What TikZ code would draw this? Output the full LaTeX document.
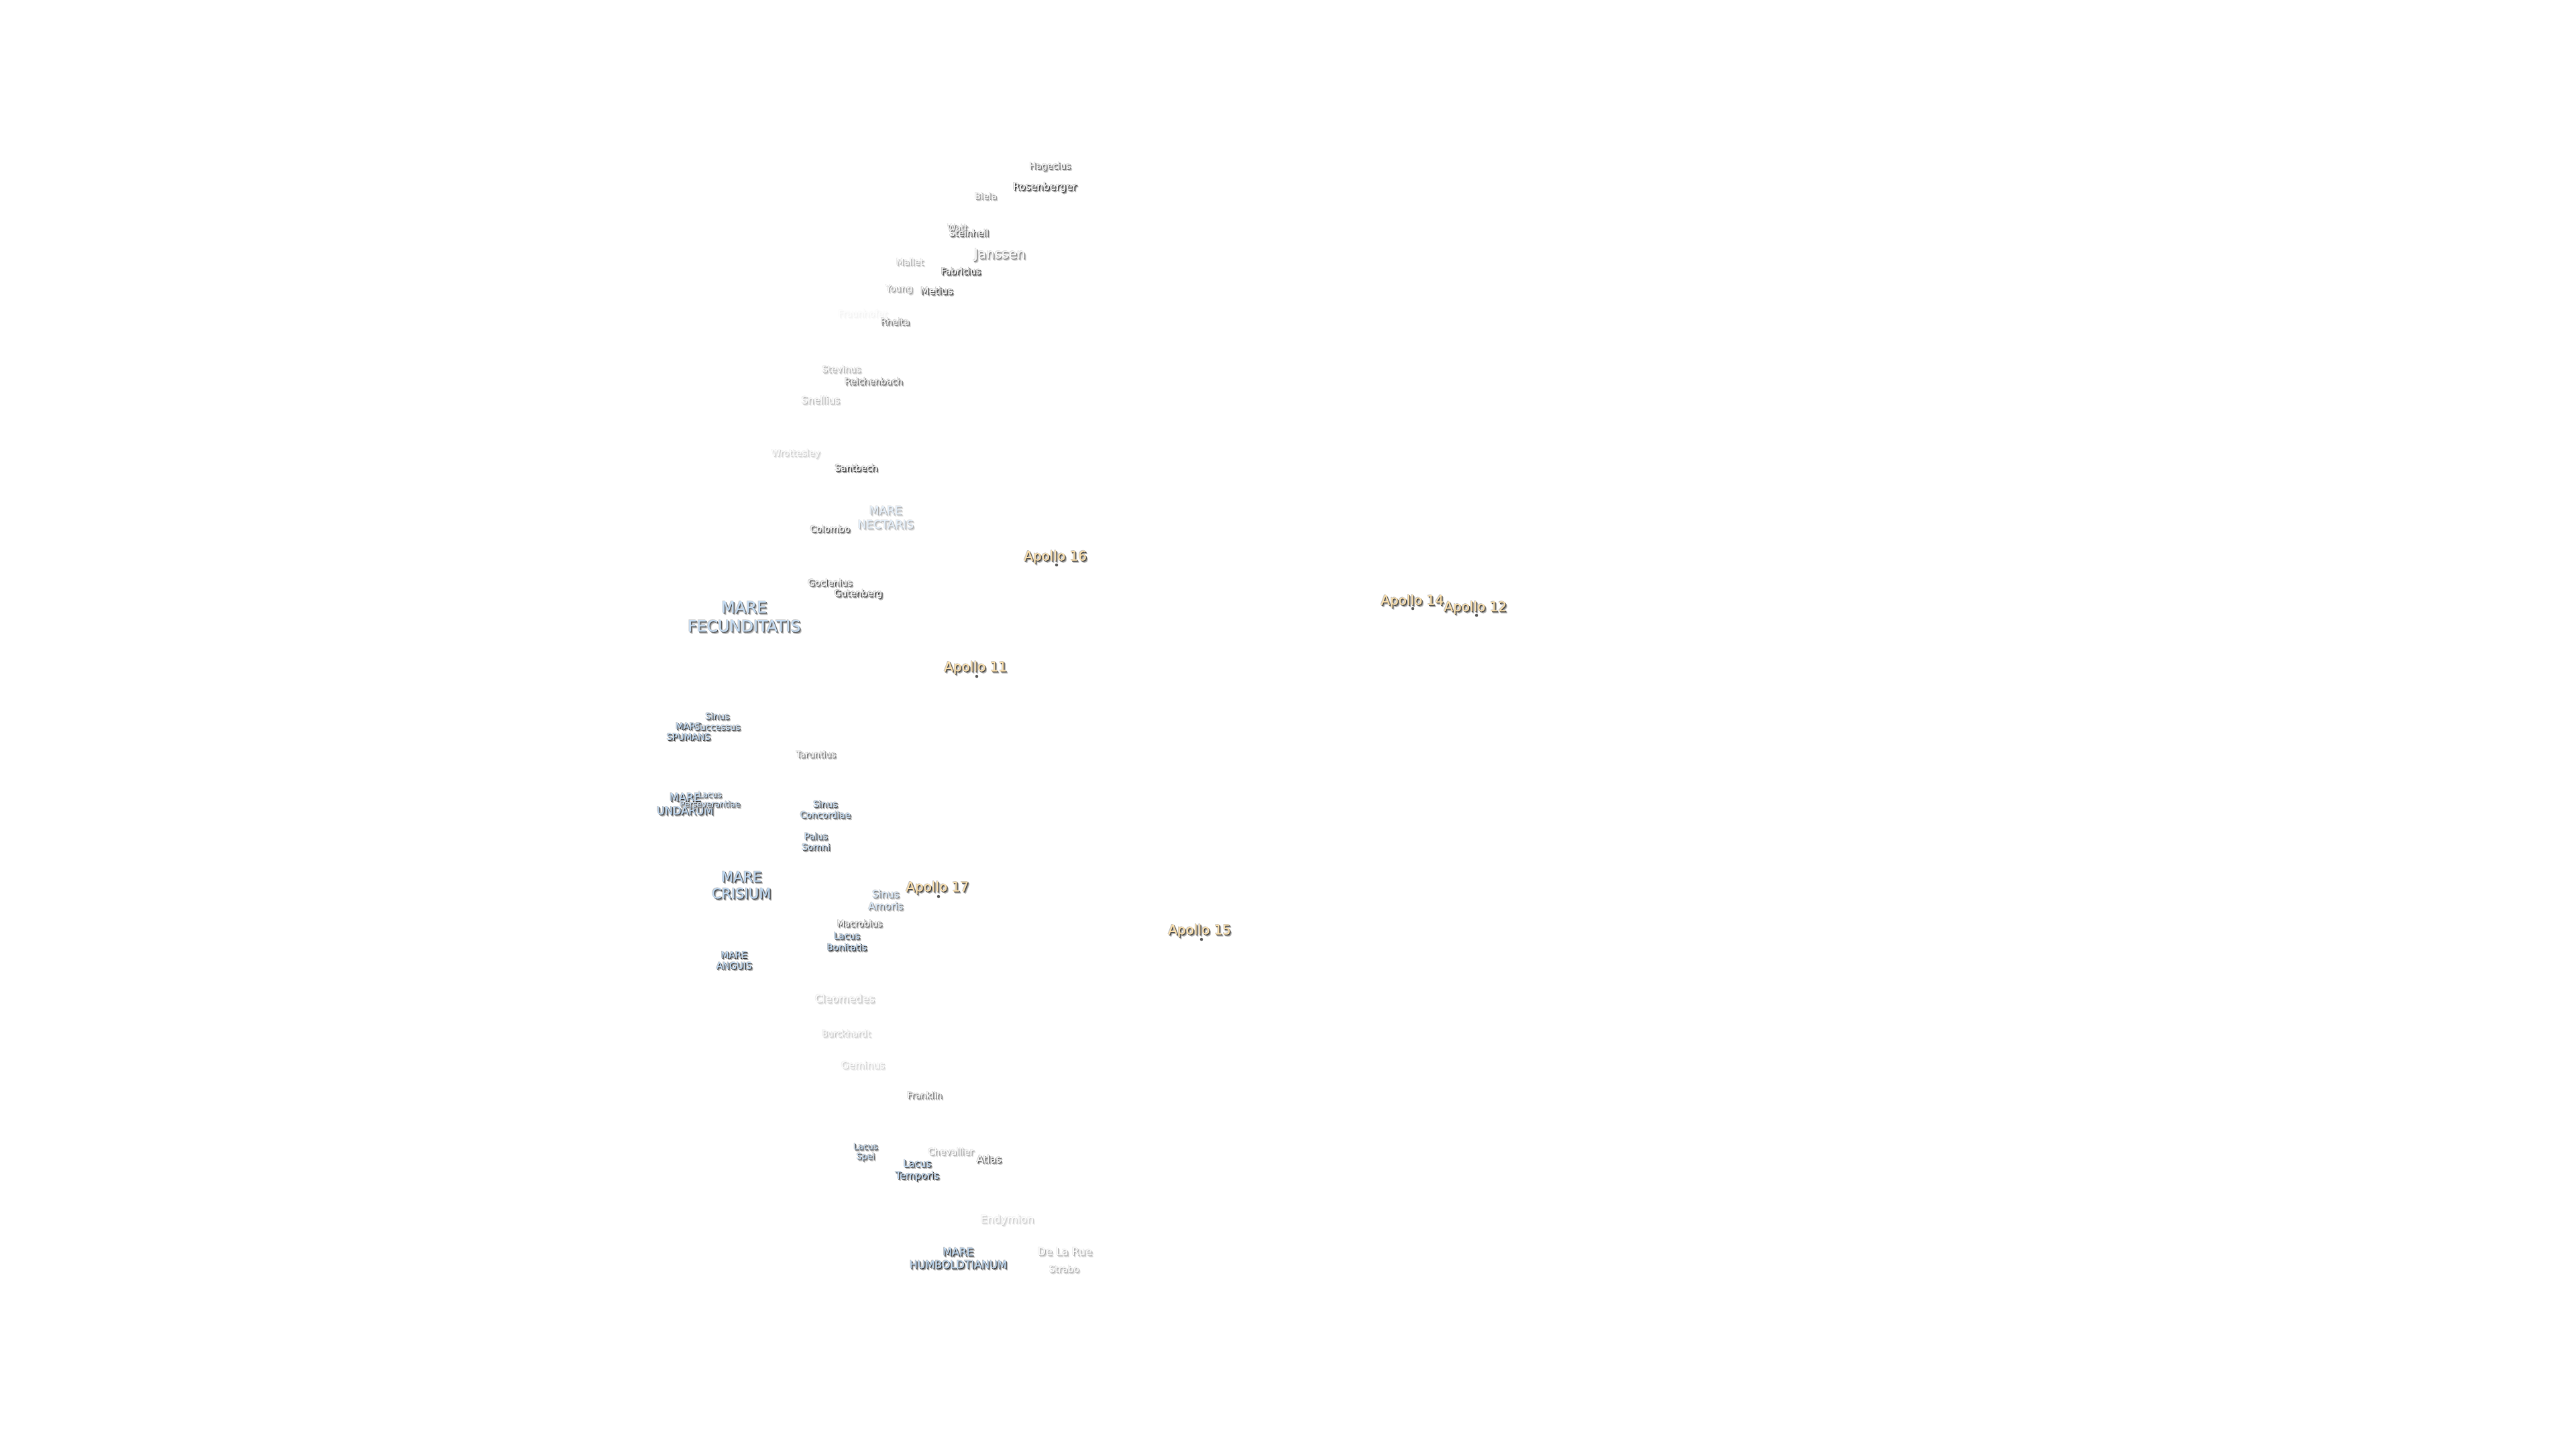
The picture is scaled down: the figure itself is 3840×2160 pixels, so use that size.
\documentclass[tikz,border=0pt]{standalone}
\usepackage{fontspec}
\setmainfont{DejaVu Sans}
\newfontfamily\lbheavy{DejaVu Sans}[FakeBold=0.4]
\definecolor{tintcrater}{RGB}{248,248,248}
\definecolor{tintmare}{RGB}{190,216,242}
\definecolor{tintapollo}{RGB}{252,224,172}
\tikzset{
  lunarlabel/.style={inner sep=0pt,outer sep=0pt,align=center,anchor=center},
  sitedot/.style={circle,inner sep=0pt,minimum size=4.5pt,fill=black!65}
}
% name, x, y, size, leading, tint, strength (percent), text
\newcommand{\moonlab}[8]{%
  \colorlet{lbA}{black!25!white}\colorlet{lbA}{lbA!#7!white}%
  \colorlet{lbB}{black!45!white}\colorlet{lbB}{lbB!#7!white}%
  \colorlet{lbC}{black!78!white}\colorlet{lbC}{lbC!#7!white}%
  \colorlet{lbF}{#6!#7!white}%
  \node[lunarlabel,text=lbA,font=\lbheavy\fontsize{#4}{#5}\selectfont] (#1a) at (#2+2,#3+3) {#8};
  \node[lunarlabel,text=lbB,font=\lbheavy\fontsize{#4}{#5}\selectfont] (#1b) at (#2+1.2,#3+2) {#8};
  \node[lunarlabel,text=lbA,font=\lbheavy\fontsize{#4}{#5}\selectfont] (#1e) at (#2-1.5,#3-.8) {#8};
  \node[lunarlabel,text=lbC,font=\lbheavy\fontsize{#4}{#5}\selectfont] (#1c) at (#2+.3,#3+1) {#8};
  \node[lunarlabel,text=lbF,font=\lbheavy\fontsize{#4}{#5}\selectfont] (#1) at (#2-.7,#3) {#8};
}
\begin{document}
\begin{tikzpicture}[x=1pt,y=-1pt]
\useasboundingbox (0,0) rectangle (3840,2160);
\fill[white] (0,0) rectangle (3840,2160);
% faint
\moonlab{fraunhofer}{1287}{467}{13.5}{16}{tintcrater}{6}{Fraunhofer}
\moonlab{geminus}{1287}{1587}{14.7}{17}{tintcrater}{22}{Geminus}
\moonlab{wrottesley}{1187}{676}{13.5}{16}{tintcrater}{25}{Wrottesley}
\moonlab{endymion}{1502}{1818}{16}{19}{tintcrater}{25}{Endymion}
\moonlab{burckhardt}{1262}{1540}{13.2}{16}{tintcrater}{28}{Burckhardt}
\moonlab{cleomedes}{1260}{1488}{16}{19}{tintcrater}{30}{Cleomedes}
\moonlab{snellius}{1224}{596}{14.8}{17}{tintcrater}{35}{Snellius}
\moonlab{strabo}{1587}{1891}{13.6}{16}{tintcrater}{38}{Strabo}
\moonlab{delarue}{1588}{1865}{16}{19}{tintcrater}{42}{De La Rue}
\moonlab{stevinus}{1255}{550}{13.5}{16}{tintcrater}{40}{Stevinus}
\moonlab{mallet}{1357}{390}{13.5}{16}{tintcrater}{42}{Mallet}
\moonlab{chevallier}{1418}{1716}{13.6}{16}{tintcrater}{45}{Chevallier}
\moonlab{young}{1341}{431}{13.5}{16}{tintcrater}{50}{Young}
\moonlab{biela}{1470}{292}{13.3}{16}{tintcrater}{55}{Biela}
% craters
\moonlab{hagecius}{1566}{248}{13.4}{16}{tintcrater}{75}{Hagecius}
\moonlab{rosenberger}{1558}{279}{15}{18}{tintcrater}{100}{Rosenberger}
\moonlab{watt}{1428}{339}{13}{16}{tintcrater}{70}{Watt}
\moonlab{steinheil}{1445}{347}{13.5}{16}{tintcrater}{80}{Steinheil}
\moonlab{janssen}{1491}{380}{20}{24}{tintcrater}{65}{Janssen}
\moonlab{fabricius}{1433}{404}{13.5}{16}{tintcrater}{100}{Fabricius}
\moonlab{metius}{1397}{433}{14.6}{17}{tintcrater}{100}{Metius}
\moonlab{rheita}{1335}{479}{13.4}{16}{tintcrater}{75}{Rheita}
\moonlab{reichenbach}{1303}{568}{13.5}{16}{tintcrater}{80}{Reichenbach}
\moonlab{santbech}{1277}{697}{13.5}{16}{tintcrater}{100}{Santbech}
\moonlab{colombo}{1238}{788}{13.5}{16}{tintcrater}{85}{Colombo}
\moonlab{goclenius}{1238}{868}{13.5}{16}{tintcrater}{85}{Goclenius}
\moonlab{gutenberg}{1280}{885}{13.5}{16}{tintcrater}{100}{Gutenberg}
\moonlab{taruntius}{1217}{1124}{13}{16}{tintcrater}{70}{Taruntius}
\moonlab{macrobius}{1282}{1376}{13.2}{16}{tintcrater}{85}{Macrobius}
\moonlab{franklin}{1379}{1632}{13.3}{16}{tintcrater}{70}{Franklin}
\moonlab{atlas}{1475}{1727}{15}{18}{tintcrater}{85}{Atlas}
% maria
\moonlab{nectaris}{1321}{771}{17}{21}{tintmare}{42}{MARE\\NECTARIS}
\moonlab{amoris}{1321}{1341}{14.9}{18}{tintmare}{65}{Sinus\\Amoris}
\moonlab{fecunditatis}{1110}{919}{23.6}{28}{tintmare}{90}{MARE\\FECUNDITATIS}
\moonlab{spumans}{1027}{1090}{13.3}{16}{tintmare}{100}{MARE\\SPUMANS}
\moonlab{successus}{1070}{1075}{13.2}{16}{tintmare}{90}{Sinus\\Successus}
\moonlab{undarum}{1022}{1198}{16.2}{20}{tintmare}{100}{MARE\\UNDARUM}
\moonlab{perseverantiae}{1059}{1191}{12}{14}{tintmare}{85}{Lacus\\Perseverantiae}
\moonlab{concordiae}{1231}{1206}{13.4}{16}{tintmare}{90}{Sinus\\Concordiae}
\moonlab{somni}{1217}{1254}{13.4}{16}{tintmare}{90}{Palus\\Somni}
\moonlab{crisium}{1106}{1319}{21}{25}{tintmare}{100}{MARE\\CRISIUM}
\moonlab{bonitatis}{1263}{1403}{13.5}{17}{tintmare}{100}{Lacus\\Bonitatis}
\moonlab{anguis}{1095}{1431}{13.7}{16}{tintmare}{100}{MARE\\ANGUIS}
\moonlab{spei}{1291}{1717}{12.5}{14.5}{tintmare}{90}{Lacus\\Spei}
\moonlab{temporis}{1368}{1744}{14.5}{18}{tintmare}{100}{Lacus\\Temporis}
\moonlab{humboldtianum}{1429}{1875}{16}{19}{tintmare}{100}{MARE\\HUMBOLDTIANUM}
% landing sites
\node[sitedot] (dot16) at (1575,842) {};
\node[sitedot] (dot14) at (2106,907) {};
\node[sitedot] (dot12) at (2201,917) {};
\node[sitedot] (dot11) at (1456,1008) {};
\node[sitedot] (dot17) at (1399,1336) {};
\node[sitedot] (dot15) at (1791,1400) {};
\moonlab{apollosixteen}{1574}{830}{20}{24}{tintapollo}{100}{Apollo 16}
\moonlab{apollofourteen}{2106}{896}{20}{24}{tintapollo}{100}{Apollo 14}
\moonlab{apollotwelve}{2200}{905.5}{20}{24}{tintapollo}{100}{Apollo 12}
\moonlab{apolloeleven}{1455}{995}{20}{24}{tintapollo}{100}{Apollo 11}
\moonlab{apolloseventeen}{1398}{1323}{20}{24}{tintapollo}{100}{Apollo 17}
\moonlab{apollofifteen}{1789}{1387}{20}{24}{tintapollo}{100}{Apollo 15}
\end{tikzpicture}
\end{document}
